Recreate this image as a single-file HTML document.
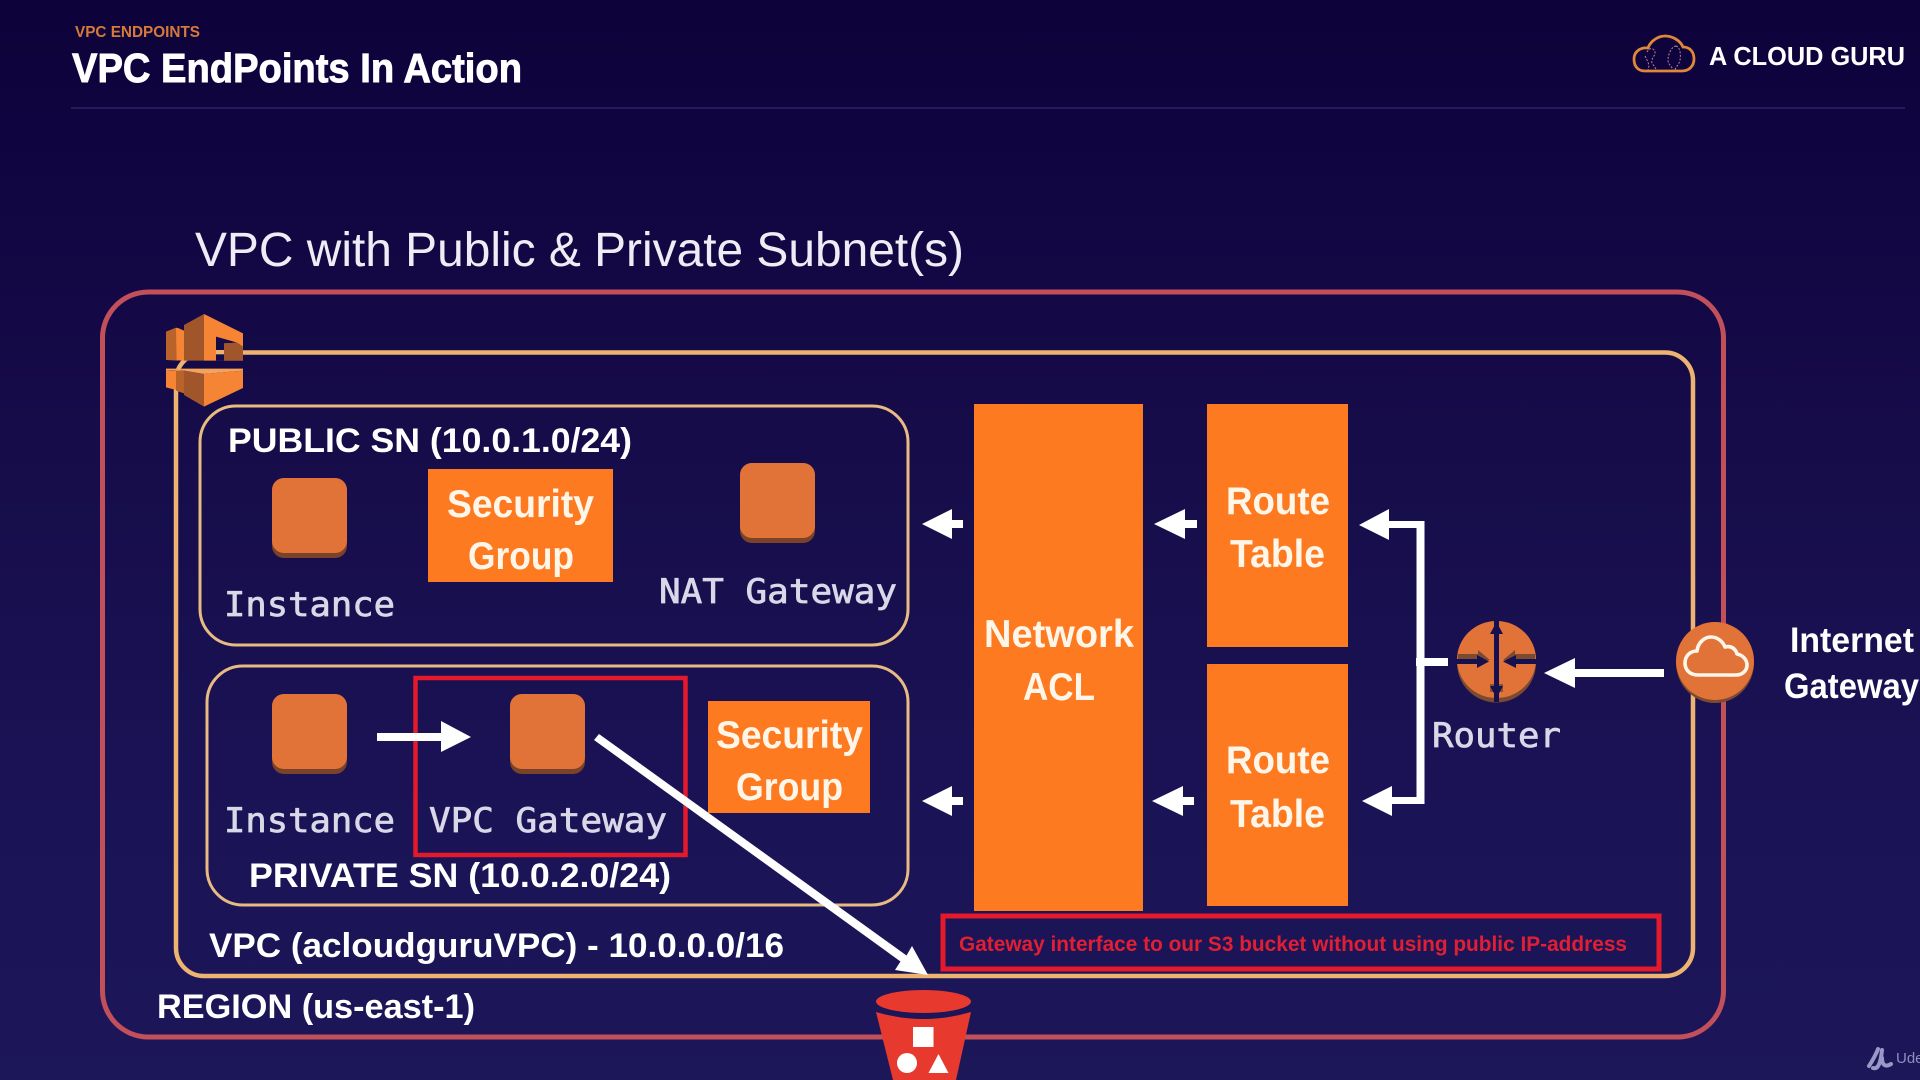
<!DOCTYPE html>
<html>
<head>
<meta charset="utf-8">
<title>VPC EndPoints In Action</title>
<style>
html,body{margin:0;padding:0;width:1920px;height:1080px;overflow:hidden;background:#160c48}
svg{display:block;position:absolute;left:0;top:0}
text{font-family:"Liberation Sans",sans-serif;white-space:pre}
.b{font-weight:bold;fill:#fff}
.m{font-family:"Liberation Sans",sans-serif;font-weight:bold;fill:#fff}
.o{font-weight:bold;fill:#fff6ea;font-size:39px}
.s{font-weight:bold;fill:#fff6ea;font-size:39px}
.mono{font-family:"DejaVu Sans Mono","Liberation Mono",monospace;fill:#dad8e8;stroke:#dad8e8;stroke-width:.7px;font-size:34px}
</style>
</head>
<body>
<svg width="1920" height="1080" viewBox="0 0 1920 1080" xmlns="http://www.w3.org/2000/svg">
<defs>
<linearGradient id="bg" x1="0" y1="0" x2="0" y2="1">
<stop offset="0" stop-color="#0e023a"/>
<stop offset=".12" stop-color="#100440"/>
<stop offset=".4" stop-color="#160c49"/>
<stop offset=".7" stop-color="#1a1254"/>
<stop offset="1" stop-color="#1c1759"/>
</linearGradient>
</defs>
<rect width="1920" height="1080" fill="url(#bg)"/>

<!-- header -->
<text x="75" y="37" font-size="15.500" font-weight="bold" fill="#d67a3a" textLength="125" lengthAdjust="spacingAndGlyphs">VPC ENDPOINTS</text>
<text x="72" y="82" font-size="41" class="b" stroke="#fff" stroke-width=".9" textLength="450" lengthAdjust="spacingAndGlyphs">VPC EndPoints In Action</text>
<rect x="71" y="107" width="1834" height="2" fill="#241a5e"/>

<!-- logo -->
<path d="M1645 71 C1636 71 1634 64 1634 59 C1634 52 1640 47 1648 48 C1651 40 1659 36 1665 36 C1672 36 1680 40 1683 47 C1690 47 1694 52 1694 59 C1694 66 1689 71 1682 71 Z" fill="none" stroke="#e0873a" stroke-width="2.800"/>
<path d="M1647 52 C1650 46 1656 49 1655 54 C1653 58 1651 60 1652 63 L1656 69 M1645 56 C1648 62 1650 65 1648 70 M1676 46 C1672 46 1668 54 1668 60 C1668 65 1672 66 1673 70 M1676 46 C1680 47 1681 54 1680 60 C1679 65 1676 66 1675 70" fill="none" stroke="#b5889a" stroke-width="1" stroke-dasharray="2 1.500"/>
<text x="1709" y="65" font-size="26" font-weight="bold" fill="#fff" textLength="196" lengthAdjust="spacingAndGlyphs">A CLOUD GURU</text>

<!-- heading -->
<text x="195" y="266" font-size="48" fill="#eeedf5" textLength="769" lengthAdjust="spacingAndGlyphs">VPC with Public &amp; Private Subnet(s)</text>

<!-- region & vpc -->
<rect x="102.500" y="292" width="1621" height="745" rx="46" ry="46" fill="none" stroke="#c2505b" stroke-width="5"/>
<rect x="176" y="352.500" width="1517" height="623.500" rx="28" ry="28" fill="none" stroke="#ecb470" stroke-width="4.500"/>

<!-- AWS VPC icon -->
<g transform="translate(150 300) scale(.33333)">
<polygon points="48,95 80,82 83,182 48,180" fill="#b9622a"/>
<polygon points="78,84 84,84 102,92 102,182 80,181" fill="#f58434"/>
<polygon points="102,75 162,42 162,182 102,182" fill="#a0552a"/>
<polygon points="162,42 279,100 279,182 198,182 198,110 162,110" fill="#f58434"/>
<polygon points="198,110 262,128 222,130 222,182 198,182" fill="#150b48"/>
<polygon points="222,130 262,128 279,140 279,182 222,182" fill="#a0552a"/>
<polygon points="162,100 198,100 198,182 162,182" fill="#f58434"/>
<rect x="198" y="150" width="24" height="13" fill="#ecb470"/>
<polygon points="48,206 279,206 279,212 162,222 102,212 48,210" fill="#f5a35a"/>
<polygon points="48,210 78,212 78,270 48,262" fill="#f58434"/>
<polygon points="78,212 102,212 102,280 78,272" fill="#b9622a"/>
<polygon points="102,212 162,222 162,320 102,285" fill="#a0552a"/>
<polygon points="162,222 279,212 279,264 162,320" fill="#f58434"/>
</g>

<!-- subnets -->
<rect x="200" y="406" width="708" height="239" rx="36" ry="36" fill="none" stroke="#e7bb82" stroke-width="3"/>
<rect x="207" y="666" width="701" height="239" rx="36" ry="36" fill="none" stroke="#e7bb82" stroke-width="3"/>

<!-- subnet labels -->
<text x="228" y="452" font-size="34" class="m" textLength="404" lengthAdjust="spacingAndGlyphs">PUBLIC SN (10.0.1.0/24)</text>
<text x="249" y="887" font-size="34" class="m" textLength="422" lengthAdjust="spacingAndGlyphs">PRIVATE SN (10.0.2.0/24)</text>
<text x="209" y="957" font-size="34" class="m" textLength="575" lengthAdjust="spacingAndGlyphs">VPC (acloudguruVPC) - 10.0.0.0/16</text>
<text x="157" y="1018" font-size="34" class="m" textLength="318" lengthAdjust="spacingAndGlyphs">REGION (us-east-1)</text>

<!-- instances -->
<g>
<rect x="272" y="478" width="75" height="80" rx="12" fill="#7a4229"/>
<rect x="272" y="478" width="75" height="75" rx="12" fill="#e27338"/>
<rect x="740" y="463" width="75" height="80" rx="12" fill="#7a4229"/>
<rect x="740" y="463" width="75" height="75" rx="12" fill="#e27338"/>
<rect x="272" y="694" width="75" height="80" rx="12" fill="#7a4229"/>
<rect x="272" y="694" width="75" height="75" rx="12" fill="#e27338"/>
<rect x="510" y="694" width="75" height="80" rx="12" fill="#7a4229"/>
<rect x="510" y="694" width="75" height="75" rx="12" fill="#e27338"/>
</g>
<text x="224" y="616" class="mono" textLength="171" lengthAdjust="spacingAndGlyphs">Instance</text>
<text x="659" y="603" class="mono" textLength="238" lengthAdjust="spacingAndGlyphs">NAT Gateway</text>
<text x="224" y="832" class="mono" textLength="171" lengthAdjust="spacingAndGlyphs">Instance</text>
<text x="429" y="832" class="mono" textLength="238" lengthAdjust="spacingAndGlyphs">VPC Gateway</text>
<text x="1432" y="747" class="mono" textLength="129" lengthAdjust="spacingAndGlyphs">Router</text>

<!-- security groups -->
<rect x="428" y="469" width="185" height="113" fill="#fe7a20"/>
<text x="447" y="517" class="s" textLength="147" lengthAdjust="spacingAndGlyphs">Security</text>
<text x="468" y="569" class="s" textLength="106" lengthAdjust="spacingAndGlyphs">Group</text>
<rect x="708" y="701" width="162" height="112" fill="#fe7a20"/>
<text x="716" y="748" class="s" textLength="147" lengthAdjust="spacingAndGlyphs">Security</text>
<text x="736" y="800" class="s" textLength="107" lengthAdjust="spacingAndGlyphs">Group</text>

<!-- NACL and route tables -->
<rect x="974" y="404" width="169" height="507" fill="#fe7a20"/>
<text x="984" y="647" class="o" textLength="150" lengthAdjust="spacingAndGlyphs">Network</text>
<text x="1023" y="700" class="o" textLength="72" lengthAdjust="spacingAndGlyphs">ACL</text>
<rect x="1207" y="404" width="141" height="243" fill="#fe7a20"/>
<text x="1226" y="514" class="o" textLength="104" lengthAdjust="spacingAndGlyphs">Route</text>
<text x="1230" y="567" class="o" textLength="95" lengthAdjust="spacingAndGlyphs">Table</text>
<rect x="1207" y="664" width="141" height="242" fill="#fe7a20"/>
<text x="1226" y="773" class="o" textLength="104" lengthAdjust="spacingAndGlyphs">Route</text>
<text x="1230" y="827" class="o" textLength="95" lengthAdjust="spacingAndGlyphs">Table</text>

<!-- left arrows -->
<g fill="#fff">
<polygon points="922,524 952,509 952,520 963,520 963,528 952,528 952,539"/>
<polygon points="1154,524 1185,509 1185,520 1197,520 1197,528 1185,528 1185,539"/>
<polygon points="922,801 952,786 952,797 963,797 963,805 952,805 952,816"/>
<polygon points="1152,801 1183,786 1183,797 1194,797 1194,805 1183,805 1183,816"/>
<!-- bracket -->
<polygon points="1359,525 1389,509 1389,521 1424.500,521 1424.500,804 1392,804 1392,816 1362,801 1392,786 1392,797 1416.500,797 1416.500,528 1389,528 1389,540"/>
<rect x="1416" y="658" width="32" height="8"/>
<!-- igw to router -->
<polygon points="1544,673 1575,658 1575,669 1664,669 1664,677 1575,677 1575,688"/>
</g>

<!-- router -->
<ellipse cx="1496.500" cy="663" rx="39.500" ry="39.500" fill="#7c4a30"/>
<ellipse cx="1496.500" cy="659.500" rx="39.500" ry="38.500" fill="#e27338"/>
<path d="M1458 654 H1478 L1478 650 L1490 660 L1478 663 H1458 Z" fill="#7c4a30"/>
<path d="M1535 654 H1515 L1515 650 L1503 660 L1515 663 H1535 Z" fill="#7c4a30"/>
<polygon points="1490,684 1503,684 1503,692 1490,692" fill="#8a5030"/>
<g fill="#171050">
<rect x="1494" y="621" width="5" height="81"/>
<polygon points="1496.500,622 1503,634 1490,634"/>
<polygon points="1496.500,698 1503,686 1490,686"/>
<polygon points="1457,659 1477,659 1477,655 1489,661.500 1477,668 1477,664 1457,664"/>
<polygon points="1536,659 1516,659 1516,655 1503,661.500 1516,668 1516,664 1536,664"/>
</g>

<!-- Internet gateway -->
<ellipse cx="1715" cy="663" rx="39" ry="40" fill="#7c4a30"/>
<ellipse cx="1715" cy="661" rx="39" ry="39" fill="#e27338"/>
<path d="M1698 675 C1689 675 1685 669 1685 663 C1685 656 1690 651 1697 651 C1698 642 1705 637 1711 637 C1718 637 1723 642 1725 647 C1732 645 1736 650 1737 654 C1743 655 1747 660 1747 665 C1747 671 1742 675 1736 675 Z" fill="none" stroke="#fff6ea" stroke-width="3.600" stroke-linejoin="round"/>
<text x="1790" y="652" font-size="35" class="m" textLength="124" lengthAdjust="spacingAndGlyphs">Internet</text>
<text x="1784" y="698" font-size="35" class="m" textLength="135" lengthAdjust="spacingAndGlyphs">Gateway</text>

<!-- red highlight boxes -->
<rect x="415.500" y="678" width="270" height="177" fill="none" stroke="#e4192c" stroke-width="4.500"/>
<rect x="943" y="916" width="716" height="53" fill="none" stroke="#e4192c" stroke-width="5"/>
<text x="959" y="951" font-size="21" font-weight="bold" fill="#e01f33" textLength="668" lengthAdjust="spacingAndGlyphs">Gateway interface to our S3 bucket without using public IP-address</text>

<!-- arrows -->
<g fill="#fff">
<polygon points="377,733 441,733 441,721 471,737 441,752 441,741 377,741"/>
<polygon points="928,975 895,970 900.500,961.500 594,740 599,734 906.500,955.500 912,946"/>
</g>

<!-- S3 -->
<path d="M876 1012 Q923.500 1026 971 1012 L956 1080 L893 1080 Z" fill="#e8392f"/>
<ellipse cx="923.500" cy="1001.500" rx="47.500" ry="11.500" fill="#e8392f"/>
<rect x="913" y="1027" width="20.500" height="20" fill="#fff"/>
<ellipse cx="907" cy="1063" rx="10" ry="10" fill="#fff"/>
<polygon points="938.500,1054 928.500,1073 948.500,1073" fill="#fff"/>

<!-- Udemy -->
<path d="M1869 1066 C1873 1060 1877 1052 1878 1049 M1873 1068 C1879 1070 1881 1060 1882 1050 M1882 1058 C1882 1066 1886 1067 1891 1064" fill="none" stroke="#9b98c9" stroke-width="4" stroke-linecap="round"/>
<text x="1896" y="1063" font-size="15" fill="#8f8cc0">Udemy</text>
</svg>
</body>
</html>
